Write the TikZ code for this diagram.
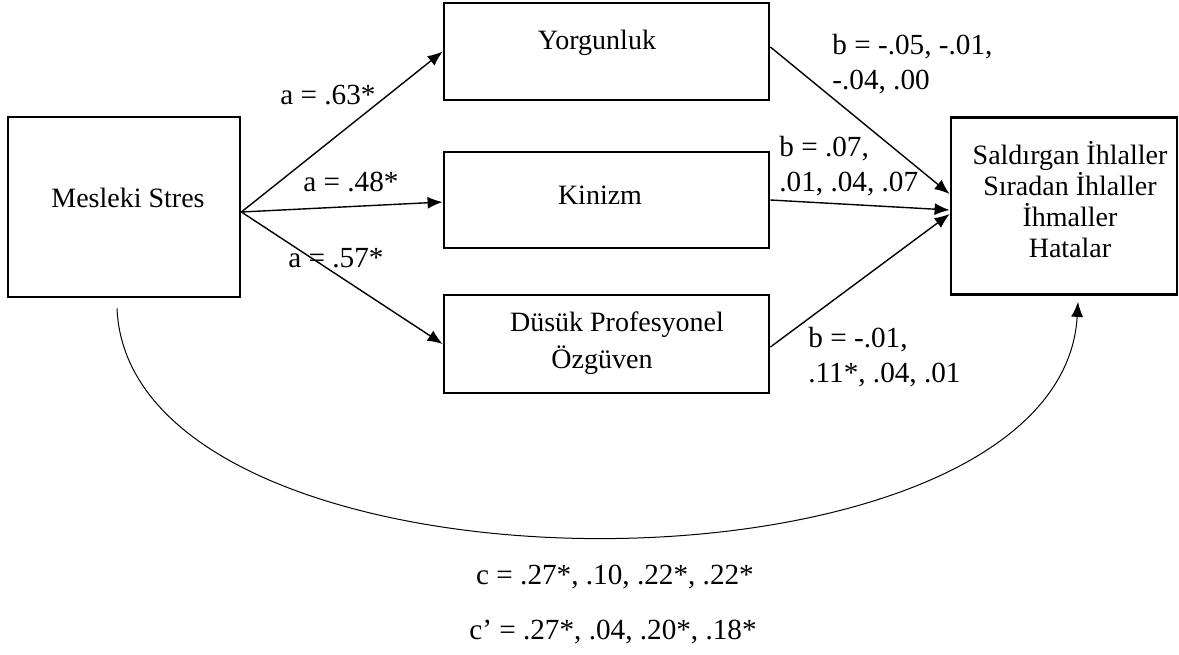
\documentclass[tikz,border=0pt]{standalone}
\usepackage{fontspec}
\setmainfont{Liberation Serif}
\usetikzlibrary{arrows.meta}
\begin{document}
\begin{tikzpicture}[x=0.5pt,y=-0.5pt,
 box/.style={draw, line width=1.4pt, inner sep=0pt},
 txt/.style={inner sep=0pt, font=\fontsize{14}{15.5}\selectfont, align=center},
 lbl/.style={inner sep=0pt, font=\fontsize{14.6}{17.5}\selectfont, align=left, anchor=west},
 clbl/.style={inner sep=0pt, font=\fontsize{14.6}{17.5}\selectfont},
 arr/.style={-{Latex[length=7.5pt,width=6pt]}, line width=0.7pt}]
\useasboundingbox (0,0) rectangle (1179,654);
% boxes
\node[box, minimum width=116pt, minimum height=90pt] (ms) at (124,207) {};
\node[box, minimum width=162.5pt, minimum height=48.5pt] (yo) at (606.5,51.5) {};
\node[box, minimum width=162.5pt, minimum height=48pt] (ki) at (606.5,200) {};
\node[box, minimum width=162.5pt, minimum height=49pt] (du) at (606.5,344) {};
\node[box, minimum width=113pt, minimum height=88.5pt] (rb) at (1064,206) {};
% box texts
\node[txt] (msT) at (128,198) {Mesleki Stres};
\node[txt] (yoT) at (597,43) {Yorgunluk};
\node[txt] (kiT) at (600,195) {Kinizm};
\node[txt] (duT1) at (617,325) {Düsük Profesyonel};
\node[txt] (duT2) at (602,360) {Özgüven};
\node[txt] (rbT) at (1070,199.5) {Saldırgan İhlaller\\Sıradan İhlaller\\İhmaller\\Hatalar};
% a paths
\draw[arr] ([yshift=-2.5pt]ms.east) -- (yo.west);
\draw[arr] ([yshift=-2.5pt]ms.east) -- ([yshift=-1pt]ki.west);
\draw[arr] ([yshift=-2.5pt]ms.east) -- (du.west);
% b paths
\draw[arr] ([yshift=2.25pt]yo.east) -- ([yshift=6pt]rb.west);
\draw[arr] (ki.east) -- ([yshift=-2pt]rb.west);
\draw[arr] ([yshift=-1.5pt]du.east) -- ([yshift=-4pt]rb.west);
% c path
\draw[arr, line width=0.5pt] ([xshift=-3.5pt,yshift=-5pt]ms.south) .. controls (130,614) and (1060,614) .. ([xshift=7pt,yshift=-3pt]rb.south);
% labels
\node[lbl] (la1) at (280,95) {a = .63*};
\node[lbl] (la2) at (303,182) {a = .48*};
\node[lbl] (la3) at (288,258) {a = .57*};
\node[lbl] (lb1) at (832,64.5) {b = -.05, -.01,\\-.04, .00};
\node[lbl] (lb2) at (779,166.5) {b = .07,\\.01, .04, .07};
\node[lbl] (lb3) at (808,357.5) {b = -.01,\\.11*, .04, .01};
\node[clbl] (lc) at (615,577) {c = .27*, .10, .22*, .22*};
\node[clbl] (lcp) at (613,632) {c’ = .27*, .04, .20*, .18*};
\end{tikzpicture}
\end{document}
